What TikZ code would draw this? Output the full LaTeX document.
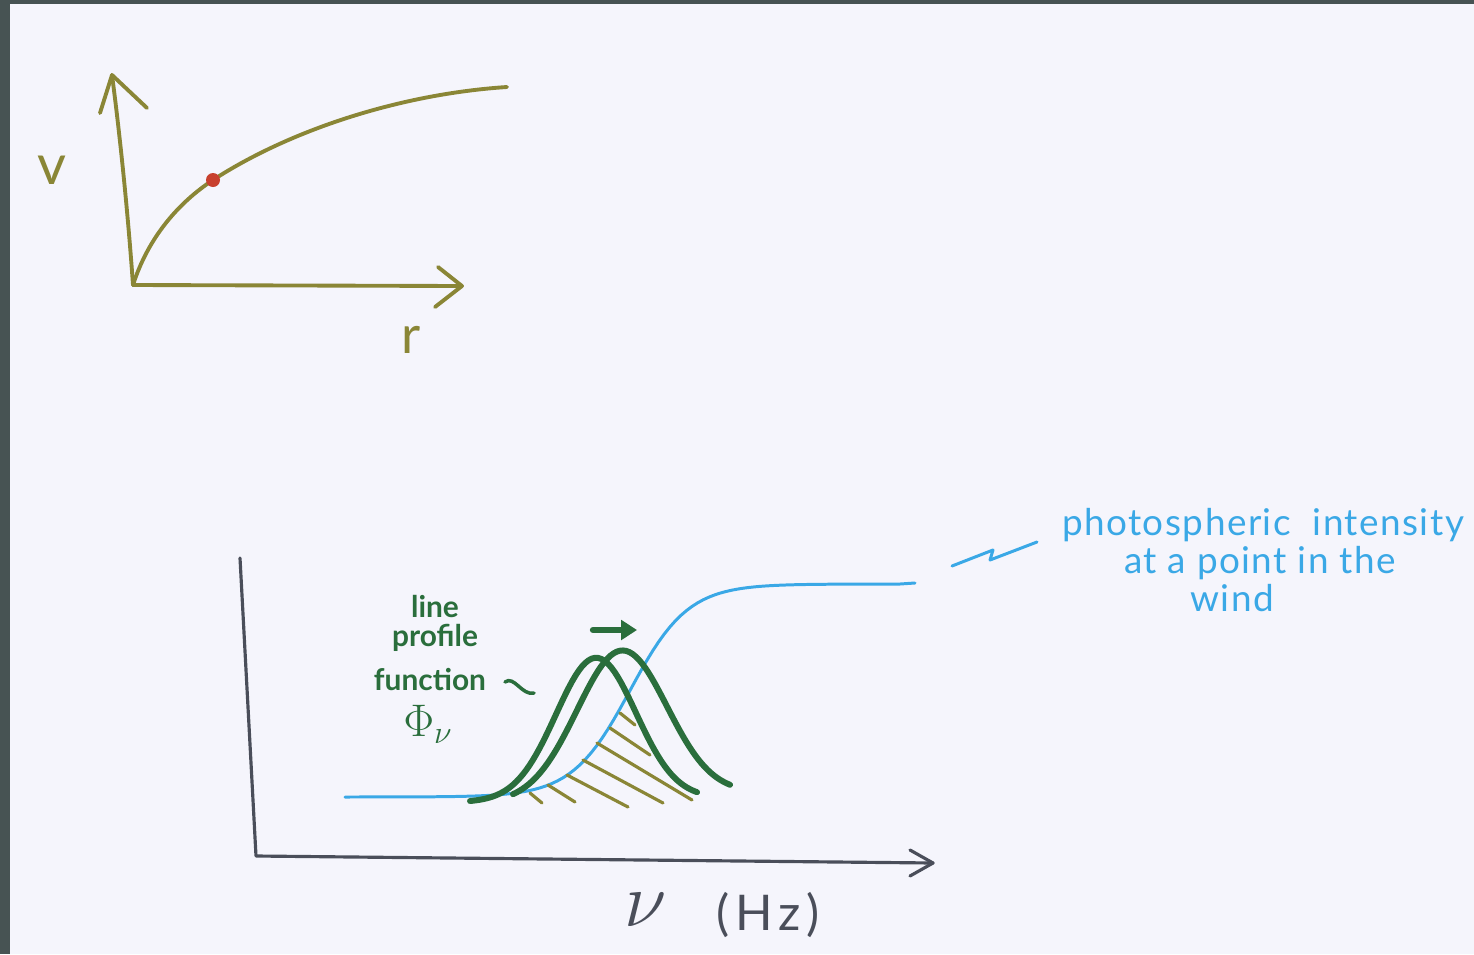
\documentclass[tikz,border=0pt]{standalone}
\usepackage{fix-cm}
\usepackage{fontspec}
\setmainfont{Lato}
\usetikzlibrary{arrows.meta}
\definecolor{frame}{HTML}{475353}
\definecolor{paper}{HTML}{F5F5FC}
\definecolor{olive}{HTML}{8A8636}
\definecolor{dotred}{HTML}{C8402E}
\definecolor{skyblue}{HTML}{3AA8E6}
\definecolor{pgreen}{HTML}{2A6E3C}
\definecolor{axisgray}{HTML}{4A4E5A}
\begin{document}
\begin{tikzpicture}[x=0.02cm,y=-0.02cm,line cap=round,line join=round,
  oliveline/.style={draw=olive,line width=2.2pt},
  axisline/.style={draw=axisgray,line width=1.8pt},
  blueline/.style={draw=skyblue,line width=1.7pt},
  greenline/.style={draw=pgreen,line width=3.4pt},
  hatchline/.style={draw=olive,line width=1.8pt},
  bluetext/.style={text=skyblue,font=\fontsize{21}{23}\selectfont\addfontfeatures{LetterSpace=4},inner sep=0pt},
  greentext/.style={text=pgreen,font=\bfseries\fontsize{17}{19}\selectfont,inner sep=0pt}]
\fill[frame] (0,0) rectangle (1474,954);
\fill[paper] (10,4) rectangle (1474,954);
\useasboundingbox (0,0) rectangle (1474,954);

% ---------- top plot ----------
\coordinate (o1) at (133,285);
\coordinate (vtip) at (112,75);
\coordinate (vbarbl) at (100,113);
\coordinate (vbarbr) at (147,108);
\coordinate (rtip) at (462,286);
\coordinate (rbarbt) at (438,267);
\coordinate (rbarbb) at (435,307);
\coordinate (dot) at (213,180);
\coordinate (cend) at (507,87);
\draw[oliveline] (o1) .. controls (127,200) and (118,120) .. (vtip);
\draw[oliveline] (vbarbl) -- (vtip) -- (vbarbr);
\draw[oliveline] (o1) -- (rtip);
\draw[oliveline] (rbarbt) -- (rtip) -- (rbarbb);
\draw[oliveline] (o1) .. controls (148,238) and (178,203) .. (dot) .. controls (290,130) and (400,94) .. (cend);
\fill[dotred] (dot) circle[radius=0.14cm];
\node[text=olive,font=\fontsize{32}{32}\selectfont,inner sep=0pt] (vlabel) at (52,170) {v};
\node[text=olive,font=\fontsize{30}{30}\selectfont,inner sep=0pt] (rlabel) at (411,340) {r};

% ---------- bottom plot ----------
\coordinate (vtop) at (240,558);
\coordinate (o2) at (256,856);
\coordinate (nutip) at (933,863);
\coordinate (nubarbt) at (910,850);
\coordinate (nubarbb) at (910,876);
\draw[axisline] (vtop) -- (o2) -- (nutip);
\draw[axisline] (nubarbt) -- (nutip) -- (nubarbb);

% intensity curve
\coordinate (bstart) at (345,797);
\coordinate (bend) at (915,583);
\draw[blueline] (bstart) -- plot[domain=400:900,samples=90] (\x,{797-213/(1+exp(-(\x-630)/29))}) -- (bend);

% hatching
\foreach \a/\b/\c/\d in {530/793/542/803, 548/785/575/802, 567/775/628/807, 583/760/663/803, 597/743/692/800, 610/728/650/755, 620/713/635/725}
  \draw[hatchline] (\a,\b) -- (\c,\d);

% line profiles
\draw[greenline] plot[domain=470:697,samples=70] (\x,{802-4*(\x-470)/227-142*exp(-((\x-596)/40)^2/2)});
\draw[greenline] plot[domain=513:730,samples=70] (\x,{802-9*(\x-513)/217-147*exp(-((\x-622)/45)^2/2)});
\coordinate (shiftA) at (593,630);
\coordinate (shiftB) at (637,630);
\draw[pgreen,line width=3.6pt,-{Triangle[length=9pt,width=11pt]}] (shiftA) -- (shiftB);

% green label
\node[greentext] (lp1) at (435,607) {line};
\node[greentext] (lp2) at (435,638) {profile};
\node[greentext] (lp3) at (430,680) {function};
\draw[pgreen,line width=2pt] (505,682) .. controls (514,675) and (522,696) .. (534,693);
\node[text=pgreen,font=\fontsize{26}{26}\selectfont,inner sep=0pt] (phi) at (428,724) {$\Phi_{\nu}$};

% blue annotation
\coordinate (z1) at (952,566);
\coordinate (z2) at (993,550);
\coordinate (z3) at (990,560);
\coordinate (z4) at (1037,542);
\draw[blueline] (z1) -- (z2) -- (z3) -- (z4);
\node[bluetext] (pt1) at (1263,525) {photospheric\ \ intensity};
\node[bluetext] (pt2) at (1260,563) {at a point in the};
\node[bluetext] (pt3) at (1232,598) {wind};

% axis label
\node[text=axisgray,font=\fontsize{44}{44}\selectfont,inner sep=0pt] (nulab) at (646,910) {$\nu$};
\node[text=axisgray,font=\fontsize{28}{28}\selectfont\addfontfeatures{LetterSpace=12},inner sep=0pt] (hzlab) at (768,915) {(Hz)};
\end{tikzpicture}
\end{document}
